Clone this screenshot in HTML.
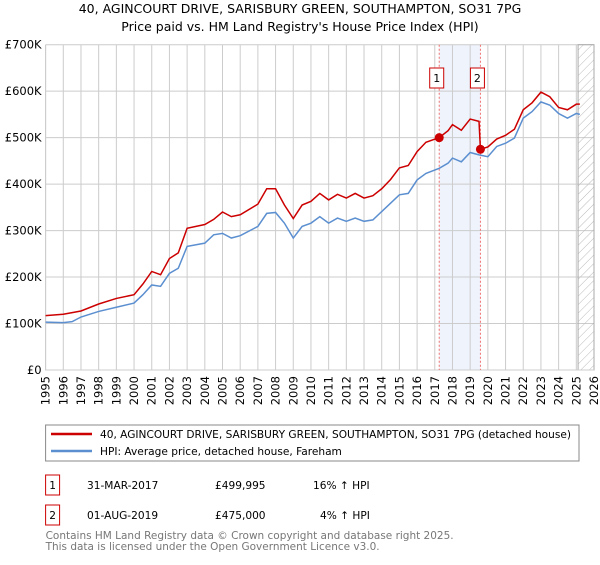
<!DOCTYPE html>
<html><head><meta charset="utf-8"><style>
body{margin:0;background:#fff;font-family:"Liberation Sans","DejaVu Sans",sans-serif;}
svg text{font-family:"DejaVu Sans","Liberation Sans",sans-serif;}
</style></head><body>
<svg id="c" width="600" height="560" xmlns="http://www.w3.org/2000/svg">
<defs><pattern id="hatch" width="6" height="6" patternUnits="userSpaceOnUse" patternTransform="rotate(45)"><line x1="0" y1="0" x2="0" y2="6" stroke="#bbb" stroke-width="1"/></pattern></defs>
<text x="300" y="13" text-anchor="middle" font-size="12.5" fill="#000">40, AGINCOURT DRIVE, SARISBURY GREEN, SOUTHAMPTON, SO31 7PG</text>
<text x="300" y="31" text-anchor="middle" font-size="12.5" fill="#000">Price paid vs. HM Land Registry's House Price Index (HPI)</text>
<g id="grid"></g><g id="marks"></g>
<rect x="45.6" y="425" width="533.4" height="36" fill="#fff" stroke="#888"/>
<line x1="51" y1="434" x2="92" y2="434" stroke="#cc0000" stroke-width="2.5"/>
<text x="100" y="438" font-size="10.6" textLength="471" lengthAdjust="spacingAndGlyphs">40, AGINCOURT DRIVE, SARISBURY GREEN, SOUTHAMPTON, SO31 7PG (detached house)</text>
<line x1="51" y1="451" x2="92" y2="451" stroke="#5b8fd0" stroke-width="2.5"/>
<text x="100" y="455" font-size="10.6">HPI: Average price, detached house, Fareham</text>
<g font-size="10.6">
<rect x="45.6" y="475" width="14" height="20" fill="#fff" stroke="#cc0000"/><text x="52.6" y="489" text-anchor="middle">1</text>
<text x="87" y="489">31-MAR-2017</text><text x="215" y="489">£499,995</text><text x="313" y="489">16% ↑ HPI</text>
<rect x="45.6" y="505" width="14" height="20" fill="#fff" stroke="#cc0000"/><text x="52.6" y="519" text-anchor="middle">2</text>
<text x="87" y="519">01-AUG-2019</text><text x="215" y="519">£475,000</text><text x="320" y="519">4% ↑ HPI</text>
</g>
<text x="45.6" y="539" font-size="10.5" fill="#777" textLength="408" lengthAdjust="spacingAndGlyphs">Contains HM Land Registry data © Crown copyright and database right 2025.</text>
<text x="45.6" y="550" font-size="10.5" fill="#777" textLength="334" lengthAdjust="spacingAndGlyphs">This data is licensed under the Open Government Licence v3.0.</text>
</svg>
<script>
const hpiYears=[1995,1996,1996.5,1997,1998,1999,2000,2000.5,2001,2001.5,2002,2002.5,2003,2004,2004.5,2005,2005.5,2006,2007,2007.5,2008,2008.5,2009,2009.5,2010,2010.5,2011,2011.5,2012,2012.5,2013,2013.5,2014,2014.5,2015,2015.5,2016,2016.5,2017.25,2017.75,2018,2018.5,2019,2019.5,2020,2020.5,2021,2021.5,2022,2022.5,2023,2023.5,2024,2024.5,2025,2025.2];
const hpiValues=[103,102,104,114,126,135,144,162,183,180,208,219,266,273,291,294,284,289,309,337,339,316,284,309,316,330,316,327,320,327,320,323,341,359,377,380,409,423,434,445,456,448,468,463,459,481,488,499,542,556,577,570,552,542,552,550];
const priceYears=[1995,1996,1997,1998,1999,2000,2000.5,2001,2001.5,2002,2002.5,2003,2004,2004.5,2005,2005.5,2006,2007,2007.5,2008,2008.5,2009,2009.5,2010,2010.5,2011,2011.5,2012,2012.5,2013,2013.5,2014,2014.5,2015,2015.5,2016,2016.5,2017.25,2017.75,2018,2018.5,2019,2019.5,2019.58,2020,2020.5,2021,2021.5,2022,2022.5,2023,2023.5,2024,2024.5,2025,2025.2];
const priceValues=[117,120,127,142,154,162,185,212,205,240,252,305,313,324,340,330,334,357,390,390,355,326,355,363,380,366,378,370,380,370,375,390,410,435,440,470,490,500,515,528,516,540,535,475,480,497,505,518,560,575,598,588,565,560,572,572];
const saleYears=[2017.25,2019.58];
const saleValues=[499.995,475];
const saleLabels=["1","2"];
const yTicks=[0,100,200,300,400,500,600,700];
const yTickLabels=["£0","£100K","£200K","£300K","£400K","£500K","£600K","£700K"];
const xTicks=[];for(let y=1995;y<=2026;y++)xTicks.push(y);

const X0=45.6,X1=594,Y0=370,Y1=44.7;
const xs=y=>X0+(y-1995)/(2026-1995)*(X1-X0);
const ys=v=>Y0-v/700*(Y0-Y1);
const NS="http://www.w3.org/2000/svg";
function mk(parent,tag,attrs){const e=document.createElementNS(NS,tag);for(const k in attrs)e.setAttribute(k,attrs[k]);parent.appendChild(e);return e;}
const g=document.getElementById('grid'),m=document.getElementById('marks');
let sh=mk(g,'rect',{x:xs(saleYears[0]),y:Y1,width:xs(saleYears[1])-xs(saleYears[0]),height:Y0-Y1,fill:'#eef3fc'});


xTicks.forEach(t=>{
 let l=mk(g,'line',{x1:xs(t),x2:xs(t),y1:Y1,y2:Y0,stroke:'#ccc','stroke-width':1});
 
 
 let tx=mk(g,'text',{x:0,y:0,'font-size':11.5,'text-anchor':'end',transform:`translate(${xs(t)+4},${Y0+6}) rotate(-90)`});
 tx.textContent=t;
 
 
});
yTicks.forEach((t,i)=>{
 let l=mk(g,'line',{x1:X0,x2:X1,y1:ys(t),y2:ys(t),stroke:'#ccc','stroke-width':1});
 
 
 let tx=mk(g,'text',{x:X0-4,y:ys(t)+4,'font-size':11.5,'text-anchor':'end'});
 tx.textContent=yTickLabels[i];
 
 
});
let ht=mk(g,'rect',{x:xs(2025.1),y:Y1,width:X1-xs(2025.1),height:Y0-Y1,fill:'url(#hatch)',stroke:'#aaa'});


let ax=mk(g,'path',{d:`M${X0},${Y1}V${Y0}H${X1}`,fill:'none',stroke:'#ccc'});


saleYears.forEach((y,i)=>{
 let l=mk(m,'line',{x1:xs(y),x2:xs(y),y1:Y1,y2:Y0,stroke:'#f07070','stroke-dasharray':'2,2'});
 
 
});
function line(xa,va,col,name){
 let p=mk(m,'polyline',{points:xa.map((x,i)=>xs(x)+','+ys(va[i])).join(' '),fill:'none',stroke:col,'stroke-width':1.5});
 
 
}
line(hpiYears,hpiValues,'#5b8fd0','hpi-line');
line(priceYears,priceValues,'#cc0000','price-line');
saleYears.forEach((y,i)=>{
 let c=mk(m,'circle',{cx:xs(y),cy:ys(saleValues[i]),r:4.5,fill:'#cc0000'});
 
 
 let r=mk(m,'rect',{x:xs(y)-(i===0?9.5:10),y:68,width:14,height:20,fill:'#fff',stroke:'#cc0000'});
 
 
 let t=mk(m,'text',{x:xs(y)-(i===0?2.5:3),y:82,'font-size':11,'text-anchor':'middle'});
 t.textContent=saleLabels[i];
 
 
});
</script>
</body></html>
